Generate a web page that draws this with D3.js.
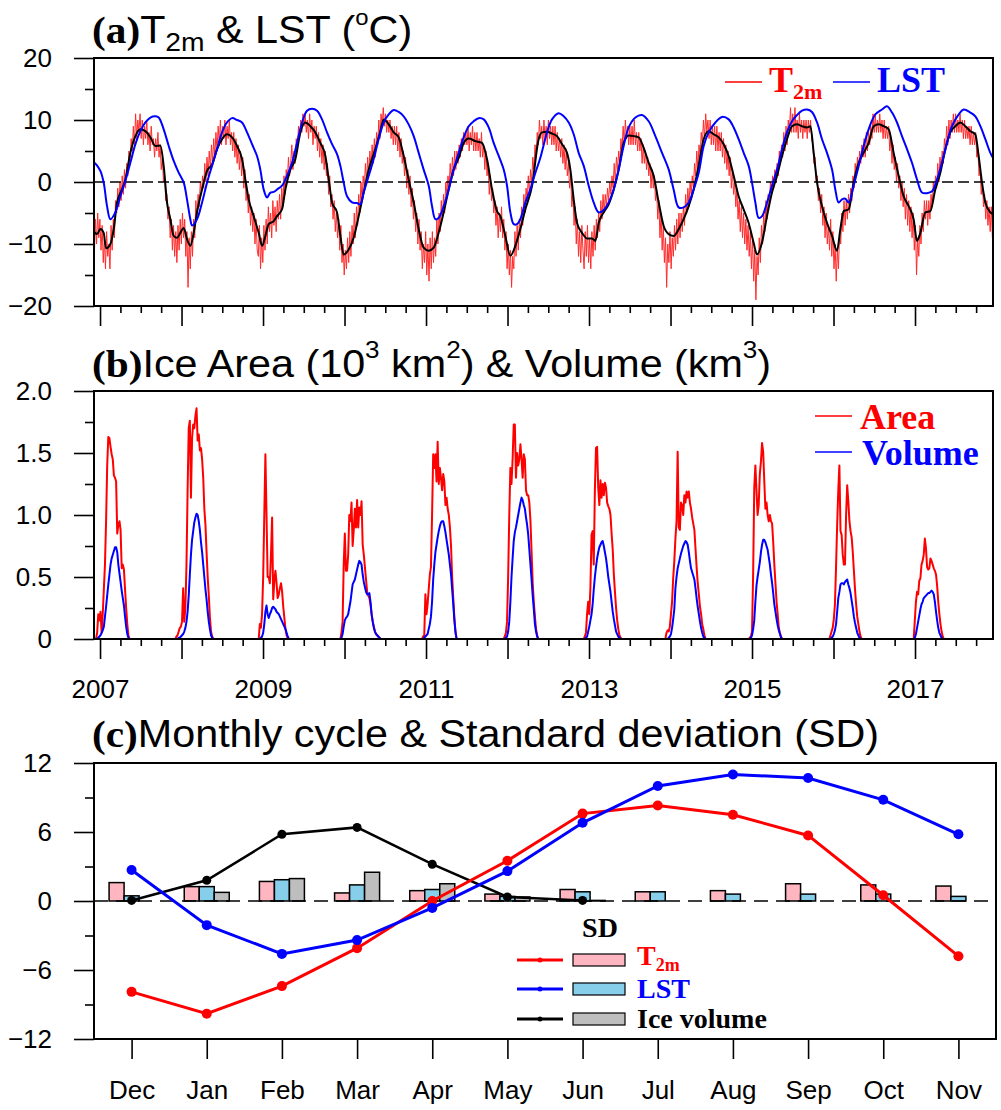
<!DOCTYPE html>
<html>
<head>
<meta charset="utf-8">
<script src="https://cdn.jsdelivr.net/npm/d3@7"></script>
<style>
  body { margin: 0; background: #fff; }
  text { white-space: pre; }
</style>
</head>
<body>
<svg id="chart" width="1001" height="1110"></svg>
<script>
// ---------------- data ----------------
// Times are in years since 2007-01-01.

// (a) daily T2m, sampled every 5 days from the start of the record
const t2mStart = -0.07;
const t2mStepDays = 5;
const t2mDaily = [
  -12,-6,-10,-5,-9,-6,-11,-7,-13,-9,-14,-8,-12,-10,-14,-7,-11,-6,-9,-3,-5,-1,-4,0,-3,1,-2,2,-1,3,1,5,3,7,5,9,6,11,7,10,8,11,7,10,6,9,7,10,6,8,5,9,6,7,4,7,5,8,4,6,2,4,0,1,-3,-2,-6,-4,-9,-6,-11,-7,-12,-8,
  -13,-7,-11,-6,-10,-5,-9,-6,-12,-8,-17,-9,-14,-8,-12,-6,-9,-3,-6,-2,-4,0,-2,1,-1,3,0,4,1,5,2,6,3,7,4,8,5,9,6,10,6,9,7,10,6,9,7,10,6,8,5,8,4,7,3,6,2,5,1,4,-1,2,-3,-1,-5,-2,-7,-4,-8,-5,-10,-6,-11,
  -12,-7,-14,-9,-13,-7,-11,-6,-10,-4,-8,-5,-9,-3,-7,-4,-8,-3,-6,-2,-6,-1,-4,1,-2,2,0,4,1,3,6,2,5,3,7,5,9,7,10,8,11,9,11,8,10,7,11,8,10,6,9,7,9,5,8,4,7,3,6,2,5,1,3,-2,1,-4,-2,-6,-3,-8,-5,-9,-6,
  -11,-7,-13,-10,-15,-11,-14,-9,-13,-8,-12,-7,-10,-5,-9,-4,-7,-2,-5,0,-3,1,-1,3,0,4,1,5,2,6,3,7,4,8,6,10,7,11,9,12,9,11,8,10,8,10,7,9,6,9,6,9,5,8,4,7,3,5,1,4,-1,2,-2,1,-4,-1,-6,-3,-8,-5,-10,-6,-11,
  -8,-14,-10,-13,-8,-15,-10,-16,-9,-14,-8,-13,-9,-12,-6,-10,-5,-8,-3,-6,-2,-5,0,-2,1,-1,3,0,4,1,5,2,5,3,6,4,7,5,8,6,8,6,9,5,8,6,9,5,8,5,8,5,7,4,8,4,6,2,5,1,3,-2,1,-3,-1,-5,-3,-7,-4,-9,-5,-8,-4,
  -9,-6,-11,-8,-14,-10,-15,-11,-17,-12,-14,-8,-12,-7,-11,-6,-9,-4,-7,-2,-5,-1,-3,1,-2,2,0,4,2,6,4,8,6,10,7,9,6,10,7,9,6,10,7,9,6,9,6,9,5,8,5,7,4,7,3,6,2,5,1,3,-1,1,-4,-2,-7,-4,-10,-6,-12,-8,-13,-7,-11,
  -14,-8,-12,-7,-13,-9,-14,-8,-12,-7,-11,-6,-9,-5,-8,-3,-6,-2,-5,-2,-4,-1,-3,0,-2,1,-1,3,0,4,2,5,3,7,5,9,6,10,7,9,6,9,6,9,6,10,6,8,5,8,5,7,3,6,3,5,2,4,1,3,-1,2,-1,1,-3,-1,-6,-3,-9,-5,-11,-7,-13,
  -9,-17,-10,-13,-8,-14,-9,-12,-7,-11,-6,-10,-5,-9,-5,-8,-4,-7,-2,-5,-1,-4,0,-2,1,-1,3,1,5,2,6,4,8,6,10,7,11,8,10,7,10,6,9,6,9,5,9,5,8,5,8,4,7,3,6,2,5,1,4,-1,2,-2,0,-4,-1,-6,-3,-8,-4,-9,-5,-10,-6,
  -11,-7,-12,-8,-14,-9,-16,-11,-19,-12,-15,-9,-13,-7,-10,-5,-8,-3,-6,-2,-4,0,-2,1,-1,2,0,3,1,5,3,6,4,8,5,9,6,10,8,12,8,11,8,12,8,10,7,11,8,10,7,10,8,10,7,10,8,10,7,6,3,4,0,1,-3,-1,-5,-2,-7,-4,-9,-5,-10,
  -7,-11,-6,-12,-8,-14,-10,-16,-11,-14,-8,-10,-5,-8,-3,-7,-3,-6,-2,-5,-1,-3,1,-1,3,1,4,2,5,3,6,4,7,4,8,5,8,6,9,7,11,8,11,8,10,8,11,8,10,7,10,7,9,7,9,5,7,3,6,2,4,0,3,-1,1,-3,0,-4,-1,-6,-2,-7,-3,
  -8,-4,-9,-5,-11,-7,-15,-9,-12,-7,-10,-5,-8,-3,-6,-3,-7,-3,-6,-2,-4,0,-2,1,-1,3,0,4,2,5,3,7,5,9,6,10,7,10,8,11,8,11,8,10,8,11,8,10,7,10,7,9,7,9,6,9,6,8,6,8,4,5,1,2,-2,0,-4,-2,-6,-3,-7,-4,-8,-4,-9,-5
];

// (a) smoothed T2m  [years since 2007, degC]
const t2mSmooth = [
  [-0.074,-8.0],[-0.037,-8.4],[0.004,-7.6],[0.045,-8.2],[0.074,-10.7],[0.127,-10.0],[0.168,-7.6],[0.209,-3.3],[0.27,-1.2],[0.311,0.4],
  [0.372,4.7],[0.434,7.4],[0.495,8.5],[0.556,8.2],[0.618,7.2],[0.679,5.8],[0.74,5.9],[0.781,2.6],[0.822,-3.3],[0.863,-6.0],
  [0.904,-8.7],[0.945,-9.0],[0.986,-8.2],[1.027,-7.4],[1.067,-9.2],[1.108,-10.3],[1.149,-8.2],[1.19,-4.9],[1.252,-1.2],[1.313,1.8],
  [1.374,2.8],[1.436,5.3],[1.497,6.9],[1.558,7.7],[1.62,7.2],[1.681,5.8],[1.742,3.7],[1.783,0.4],[1.824,-2.8],[1.885,-5.5],
  [1.947,-8.2],[1.988,-10.3],[2.029,-8.7],[2.07,-6.8],[2.131,-6.3],[2.172,-5.5],[2.233,-4.4],[2.274,-1.2],[2.335,2.0],[2.397,3.7],
  [2.458,8.0],[2.519,9.6],[2.581,9.0],[2.642,8.0],[2.703,6.3],[2.765,4.2],[2.806,0.4],[2.847,-3.3],[2.908,-4.9],[2.949,-8.7],
  [2.99,-11.7],[3.051,-10.9],[3.112,-9.0],[3.174,-5.5],[3.235,-1.7],[3.297,2.0],[3.378,5.3],[3.44,8.2],[3.481,10.1],[3.542,9.3],
  [3.603,8.0],[3.665,7.2],[3.726,4.2],[3.787,0.4],[3.849,-3.3],[3.91,-7.6],[3.971,-10.6],[4.033,-11.1],[4.094,-10.6],[4.155,-8.2],
  [4.217,-4.9],[4.278,-1.2],[4.339,2.0],[4.401,3.9],[4.462,6.3],[4.524,7.0],[4.605,6.6],[4.687,6.3],[4.748,3.7],[4.81,-1.2],
  [4.871,-4.7],[4.912,-5.5],[4.973,-8.7],[5.035,-11.9],[5.096,-10.3],[5.157,-7.6],[5.219,-4.4],[5.301,-0.6],[5.382,6.9],[5.423,8.0],
  [5.485,8.1],[5.546,7.8],[5.607,7.4],[5.669,6.1],[5.73,4.7],[5.771,2.0],[5.812,-2.8],[5.853,-6.6],[5.914,-8.2],[5.975,-9.1],
  [6.037,-9.1],[6.078,-9.5],[6.119,-6.6],[6.18,-4.9],[6.241,-3.6],[6.303,-1.2],[6.364,2.0],[6.425,6.3],[6.487,7.5],[6.548,7.4],
  [6.609,7.2],[6.671,5.5],[6.732,3.1],[6.793,1.0],[6.855,-3.3],[6.916,-7.1],[6.977,-8.4],[7.038,-8.7],[7.1,-7.6],[7.161,-6.0],
  [7.223,-3.9],[7.284,-1.2],[7.345,2.6],[7.407,6.9],[7.468,8.2],[7.529,7.7],[7.591,7.2],[7.652,6.1],[7.713,4.2],[7.775,1.0],
  [7.836,-2.3],[7.897,-4.4],[7.959,-6.6],[8.02,-9.8],[8.061,-11.7],[8.122,-9.8],[8.184,-5.5],[8.245,-1.7],[8.307,1.0],[8.368,4.2],
  [8.429,6.9],[8.491,9.0],[8.552,9.3],[8.613,9.0],[8.675,8.8],[8.716,9.0],[8.757,4.7],[8.798,-0.1],[8.859,-3.9],[8.92,-6.6],
  [8.982,-8.7],[9.043,-11.1],[9.084,-7.6],[9.125,-4.7],[9.186,-4.4],[9.247,-0.1],[9.309,3.1],[9.37,4.7],[9.431,6.3],[9.493,9.0],
  [9.554,9.3],[9.615,9.0],[9.677,8.5],[9.738,4.7],[9.799,1.0],[9.861,-2.3],[9.922,-3.9],[9.983,-6.0],[10.024,-9.5],[10.065,-8.2],
  [10.127,-4.9],[10.188,-4.7],[10.249,-1.2],[10.311,1.5],[10.372,5.3],[10.433,8.0],[10.495,9.0],[10.556,9.6],[10.617,9.0],[10.679,8.2],
  [10.74,7.7],[10.781,4.2],[10.822,-0.1],[10.863,-3.3],[10.924,-4.9],[10.965,-5.2]
];

// (a) land surface temperature  [years since 2007, degC]
const lst = [
  [-0.074,3.2],[-0.049,2.85],[0.004,1.8],[0.045,-0.1],[0.086,-3.9],[0.127,-6.0],[0.188,-4.9],[0.249,-2.3],[0.311,0.2],[0.372,3.1],
  [0.434,6.1],[0.495,8.2],[0.556,9.6],[0.618,10.4],[0.679,10.6],[0.72,10.4],[0.781,8.5],[0.843,5.8],[0.904,3.4],[0.965,1.5],
  [1.027,-0.1],[1.067,-2.8],[1.108,-6.0],[1.129,-7.0],[1.19,-6.0],[1.252,-3.3],[1.313,-0.1],[1.374,2.6],[1.436,5.3],[1.497,8.0],
  [1.558,9.6],[1.62,10.3],[1.681,10.0],[1.742,9.6],[1.804,8.0],[1.865,6.1],[1.926,4.2],[1.967,2.0],[2.008,-1.2],[2.049,-2.5],
  [2.09,-1.7],[2.131,-1.6],[2.172,-1.2],[2.233,-0.6],[2.294,1.0],[2.356,3.1],[2.417,6.3],[2.479,9.6],[2.54,11.5],[2.601,11.8],
  [2.663,11.5],[2.724,10.1],[2.785,8.0],[2.847,6.1],[2.908,4.5],[2.949,2.6],[2.99,-0.1],[3.031,-2.3],[3.092,-3.3],[3.153,-3.4],
  [3.194,-3.6],[3.235,-1.7],[3.297,1.0],[3.358,3.7],[3.419,6.9],[3.481,9.6],[3.542,10.9],[3.603,11.6],[3.665,11.3],[3.726,10.6],
  [3.787,9.3],[3.849,7.4],[3.91,4.7],[3.971,2.0],[4.033,-0.6],[4.074,-3.9],[4.115,-6.0],[4.155,-5.8],[4.217,-3.9],[4.278,-1.2],
  [4.339,2.0],[4.401,4.7],[4.462,7.2],[4.524,9.0],[4.585,9.8],[4.646,10.3],[4.708,10.1],[4.769,8.8],[4.83,6.3],[4.892,4.2],
  [4.953,2.0],[4.994,-0.6],[5.035,-4.9],[5.076,-6.8],[5.117,-6.8],[5.157,-6.0],[5.219,-3.3],[5.28,-1.2],[5.342,1.5],[5.403,3.9],
  [5.485,8.0],[5.546,10.1],[5.628,11.1],[5.689,10.6],[5.751,9.6],[5.812,7.7],[5.873,4.7],[5.935,2.6],[5.996,-0.6],[6.057,-3.3],
  [6.119,-4.9],[6.18,-4.5],[6.241,-3.3],[6.303,-1.2],[6.364,2.0],[6.425,5.8],[6.487,8.8],[6.569,10.4],[6.65,10.8],[6.732,9.8],
  [6.814,7.4],[6.896,4.7],[6.978,2.0],[7.038,-1.2],[7.1,-4.1],[7.161,-4.1],[7.223,-3.3],[7.284,-1.2],[7.346,1.5],[7.407,5.8],
  [7.468,8.0],[7.55,9.6],[7.632,10.5],[7.714,10.1],[7.775,8.8],[7.836,6.9],[7.898,4.7],[7.959,2.6],[8.0,-0.1],[8.041,-3.3],
  [8.082,-5.8],[8.123,-5.5],[8.184,-3.3],[8.245,-0.6],[8.307,2.0],[8.368,5.3],[8.429,8.0],[8.491,9.8],[8.552,10.8],[8.614,11.5],
  [8.675,11.7],[8.736,11.3],[8.798,9.6],[8.859,6.9],[8.92,4.7],[8.982,2.0],[9.022,-1.2],[9.063,-3.3],[9.104,-2.8],[9.145,-2.7],
  [9.186,-3.3],[9.247,-0.6],[9.309,2.6],[9.37,5.8],[9.431,8.5],[9.513,10.9],[9.595,11.7],[9.656,12.2],[9.718,11.2],[9.779,9.6],
  [9.84,7.4],[9.902,5.3],[9.963,3.1],[10.025,0.4],[10.086,-1.7],[10.147,-1.8],[10.209,-1.5],[10.27,0.4],[10.331,3.1],[10.393,6.3],
  [10.454,9.0],[10.536,10.9],[10.597,11.7],[10.679,11.2],[10.74,10.6],[10.802,9.0],[10.863,6.9],[10.924,4.7],[10.965,3.7]
];

// (b) lake ice, one block per winter, sampled every 5 days from the block start
const iceStepDays = 5;
const iceSeasonStart = [-0.049, 0.924, 1.947, 2.949, 3.951, 4.953, 5.935, 6.937, 7.959, 8.949, 9.984];
const iceArea = [
  [0,0.05,0.2,0.15,0.22,0.05,0.2,0.4,0.6,0.95,1.4,1.63,1.62,1.55,1.49,1.45,1.32,1.3,1.27,0.85,0.92,0.95,0.88,0.57,0.6,0.56,0.4,0.25,0.12,0.03,0],
  [0,0.02,0.03,0.06,0.09,0.1,0.14,0.41,0.14,0.25,0.6,1.2,1.7,1.76,1.14,1.62,1.73,1.7,1.8,1.86,1.6,1.65,1.52,1.54,1.45,1.3,1.05,0.92,0.7,0.5,0.35,0.17,0.06,0.02,0],
  [0,0.12,0.09,0.2,0.5,1.0,1.49,1.0,0.5,0.5,0.45,0.68,0.98,0.32,0.47,0.55,0.45,0.33,0.36,0.41,0.45,0.38,0.26,0.17,0.08,0.03,0.01,0],
  [0,0.05,0.14,0.6,0.85,0.55,0.55,0.68,1.0,0.95,1.1,0.75,0.88,1.05,0.9,1.12,0.9,1.06,1.0,1.11,0.76,0.68,0.58,0.48,0.38,0.35,0.33,0.28,0.2,0.14,0.1,0.06,0.04,0.03,0.02,0.01,0],
  [0,0.02,0.03,0.36,0.2,0.28,0.4,0.52,0.58,1.0,1.49,1.38,1.49,1.27,1.59,1.25,1.38,1.3,1.2,1.33,1.27,1.08,1.14,1.05,1.0,0.9,0.75,0.5,0.33,0.17,0.05,0],
  [0,0.02,0.05,0.14,0.5,1.0,1.38,1.25,1.45,1.73,1.73,1.3,1.5,1.4,1.45,1.57,1.45,1.3,1.49,1.45,1.2,1.16,1.16,1.1,0.95,0.7,0.45,0.3,0.18,0.08,0.03,0],
  [0,0.02,0.05,0.2,0.3,0.2,0.41,0.84,0.87,0.6,1.2,1.54,1.55,1.22,1.08,1.28,1.14,1.25,1.16,1.26,1.22,1.1,1.07,1.05,1.0,0.85,0.72,0.52,0.38,0.25,0.15,0.08,0.03,0.01,0],
  [0,0.05,0.07,0.06,0.1,0.2,0.3,0.49,0.63,0.81,0.95,1.51,0.9,0.88,1.1,1.08,1.0,1.16,1.1,1.19,1.14,1.19,1.1,1.05,0.98,0.93,0.88,0.73,0.58,0.45,0.36,0.26,0.2,0.12,0.08,0.03,0],
  [0,0.01,0.02,0.06,0.52,1.22,1.4,1.2,1.0,1.08,1.33,1.43,1.58,1.51,1.27,1.05,1.1,1.0,0.95,1.0,0.95,0.93,0.78,0.6,0.45,0.3,0.2,0.09,0.05,0.02,0],
  [0,0.03,0.06,0.09,0.16,0.28,0.58,0.92,1.2,1.4,0.87,0.84,0.68,0.6,0.6,1.0,1.24,1.11,0.95,0.87,0.82,0.7,0.55,0.4,0.28,0.18,0.12,0.06,0.02,0],
  [0,0.15,0.3,0.38,0.36,0.47,0.49,0.6,0.63,0.68,0.81,0.73,0.58,0.56,0.57,0.65,0.63,0.6,0.57,0.55,0.52,0.43,0.3,0.2,0.12,0.06,0.02,0]
];
const iceVolume = [
  [0,0,0.01,0.02,0.03,0.05,0.07,0.1,0.18,0.26,0.35,0.44,0.52,0.6,0.65,0.68,0.71,0.74,0.74,0.7,0.6,0.53,0.46,0.39,0.33,0.27,0.18,0.1,0.04,0.01,0],
  [0,0,0,0.01,0.01,0.02,0.03,0.04,0.06,0.09,0.14,0.22,0.35,0.52,0.68,0.8,0.87,0.94,0.98,1.01,1.0,0.95,0.88,0.78,0.7,0.6,0.5,0.4,0.32,0.22,0.14,0.08,0.03,0.01,0],
  [0,0,0.01,0.02,0.05,0.12,0.22,0.27,0.2,0.17,0.2,0.22,0.25,0.26,0.25,0.24,0.22,0.21,0.2,0.18,0.16,0.14,0.12,0.1,0.08,0.05,0.02,0],
  [0,0.01,0.04,0.1,0.15,0.17,0.18,0.2,0.25,0.3,0.37,0.44,0.46,0.48,0.52,0.56,0.6,0.63,0.62,0.6,0.52,0.46,0.42,0.38,0.36,0.36,0.37,0.3,0.2,0.14,0.09,0.06,0.04,0.03,0.02,0.01,0],
  [0,0,0.01,0.02,0.03,0.04,0.08,0.12,0.18,0.3,0.48,0.6,0.7,0.76,0.82,0.87,0.91,0.94,0.95,0.95,0.91,0.86,0.8,0.74,0.68,0.6,0.52,0.4,0.28,0.15,0.06,0],
  [0,0,0.01,0.02,0.06,0.14,0.3,0.5,0.65,0.79,0.86,0.9,0.95,1.0,1.05,1.1,1.14,1.12,1.08,1.05,0.98,0.92,0.84,0.72,0.6,0.48,0.35,0.24,0.12,0.06,0.02,0],
  [0,0,0.01,0.02,0.06,0.1,0.15,0.2,0.28,0.4,0.5,0.58,0.65,0.7,0.74,0.76,0.78,0.79,0.75,0.7,0.65,0.58,0.5,0.44,0.38,0.3,0.22,0.16,0.11,0.06,0.04,0.02,0.01,0,0],
  [0,0,0,0.01,0.02,0.04,0.09,0.16,0.24,0.41,0.5,0.57,0.61,0.65,0.69,0.72,0.75,0.77,0.79,0.78,0.76,0.7,0.63,0.57,0.54,0.51,0.48,0.41,0.33,0.26,0.2,0.14,0.09,0.05,0.02,0.01,0],
  [0,0,0.01,0.03,0.08,0.15,0.3,0.43,0.5,0.56,0.62,0.7,0.76,0.8,0.8,0.78,0.75,0.72,0.66,0.6,0.52,0.45,0.37,0.28,0.22,0.16,0.11,0.07,0.04,0.01,0],
  [0,0,0.01,0.02,0.04,0.07,0.12,0.22,0.33,0.38,0.44,0.45,0.45,0.44,0.46,0.47,0.48,0.44,0.41,0.37,0.31,0.25,0.18,0.13,0.09,0.05,0.03,0.01,0,0],
  [0,0.01,0.04,0.09,0.14,0.19,0.24,0.28,0.3,0.33,0.34,0.35,0.36,0.37,0.37,0.38,0.39,0.38,0.36,0.3,0.22,0.15,0.09,0.05,0.03,0.01,0,0]
];

// (c) monthly cycle and standard deviation
const months   = ["Dec","Jan","Feb","Mar","Apr","May","Jun","Jul","Aug","Sep","Oct","Nov"];
const t2mCycle = [-7.9,-9.8,-7.4,-4.1,0.0,3.5,7.6,8.3,7.5,5.7,0.5,-4.8];
const lstCycle = [2.7,-2.1,-4.6,-3.4,-0.6,2.6,6.8,10.0,11.0,10.7,8.8,5.8];
const iceMonths = ["Dec","Jan","Feb","Mar","Apr","May","Jun"];
const iceCycle = [0.05,1.8,5.8,6.4,3.2,0.35,0.05];
const sdT2m = [1.6,1.25,1.7,0.7,0.9,0.6,1.0,0.8,0.9,1.5,1.4,1.3];
const sdLst = [0.45,1.25,1.85,1.4,1.0,0.4,0.8,0.8,0.6,0.6,0.6,0.4];
const sdIce = [0.0,0.75,1.95,2.5,1.5,0.35,0.05,0,0,0,0,0];

// time-axis ticks
const yearTicks = d3.range(2007, 2018);
const yearLabels = [2007, 2009, 2011, 2013, 2015, 2017];

// ---------------- drawing ----------------
const SANS = "'Liberation Sans', Arial, Helvetica, sans-serif";
const SERIF = "'Liberation Serif', 'Times New Roman', serif";
const svg = d3.select("#chart");
const L = 94, R = 993, RC = 996;

const x  = d3.scaleLinear().domain([2006.926, 2017.957]).range([L, R]);
const yA = d3.scaleLinear().domain([-20, 20]).range([306, 58]);
const yB = d3.scaleLinear().domain([0, 2]).range([639, 391]);
const xM = d3.scalePoint().domain(months).range([L, RC]).padding(0.5);
const yC = d3.scaleLinear().domain([-12, 12]).range([1039, 763]);
const sub = d3.scaleBand().domain(["t2m","lst","ice"]).range([-22.5, 22.5]);

function richText(g, xx, yy, size, parts, fill, anchor) {
  const t = g.append("text").attr("x", xx).attr("y", yy)
    .attr("font-size", size).attr("font-family", SANS)
    .attr("fill", fill || "#000").attr("text-anchor", anchor || "start");
  let cur = 0;
  parts.forEach(p => {
    const shift = p.shift || 0;
    const s = t.append("tspan").text(p.t).attr("dy", shift - cur);
    cur = shift;
    if (p.size) s.attr("font-size", p.size);
    if (p.serif) s.attr("font-family", SERIF).attr("font-weight", "bold");
  });
  return t;
}

// panel titles are set slightly wide
function title(yy, parts) {
  const g = svg.append("g").attr("transform", "translate(92,0) scale(1.087,1) translate(-92,0)");
  richText(g, 92, yy, 38, parts);
}

function styleAxis(g, labelSize) {
  g.select(".domain").remove();
  g.selectAll(".tick line").attr("stroke", "#000").attr("stroke-width", 1.6);
  g.selectAll(".tick text").attr("font-family", SANS).attr("font-size", labelSize || 26).attr("fill", "#000");
}

function leftAxis(y, major, minor, fmt) {
  svg.append("g").attr("transform", `translate(${L},0)`)
    .call(d3.axisLeft(y).tickValues(minor).tickSize(9).tickFormat(""))
    .call(g => styleAxis(g));
  svg.append("g").attr("transform", `translate(${L},0)`)
    .call(d3.axisLeft(y).tickValues(major).tickSize(20).tickPadding(22).tickFormat(fmt))
    .call(g => styleAxis(g));
}

function timeAxis(y0, withLabels) {
  const minor = d3.range(2006.75, 2018, 0.25).filter(v => v >= 2006.93 && v <= 2017.95 && !Number.isInteger(v));
  svg.append("g").attr("transform", `translate(0,${y0})`)
    .call(d3.axisBottom(x).tickValues(minor).tickSize(7).tickFormat(""))
    .call(g => styleAxis(g));
  svg.append("g").attr("transform", `translate(0,${y0})`)
    .call(d3.axisBottom(x).tickValues(yearTicks).tickSize(20).tickPadding(21)
      .tickFormat(d => withLabels && yearLabels.includes(d) ? String(d) : ""))
    .call(g => styleAxis(g));
}

function frame(x0, y0, x1, y1) {
  svg.append("rect").attr("x", x0).attr("y", y0).attr("width", x1 - x0).attr("height", y1 - y0)
    .attr("fill", "none").attr("stroke", "#000").attr("stroke-width", 2);
}

function clip(id, x0, y0, x1, y1) {
  svg.append("clipPath").attr("id", id).append("rect")
    .attr("x", x0).attr("y", y0).attr("width", x1 - x0).attr("height", y1 - y0);
}

// ---- panel (a) ----
clip("clipA", L, 58, R, 306);
const gA = svg.append("g").attr("clip-path", "url(#clipA)");
const stepYr = t2mStepDays / 365.25;
gA.append("path")
  .datum(t2mDaily)
  .attr("fill", "none").attr("stroke", "#ff2b2b").attr("stroke-width", 1)
  .attr("d", d3.line().x((d, i) => x(2007 + t2mStart + i * stepYr)).y(d => yA(d)));
gA.append("line").attr("x1", L).attr("x2", R).attr("y1", yA(0)).attr("y2", yA(0))
  .attr("stroke", "#000").attr("stroke-width", 1.5).attr("stroke-dasharray", "11,5");
gA.append("path")
  .datum(t2mSmooth)
  .attr("fill", "none").attr("stroke", "#000").attr("stroke-width", 2)
  .attr("d", d3.line().x(d => x(2007 + d[0])).y(d => yA(d[1])).curve(d3.curveMonotoneX));
gA.append("path")
  .datum(lst)
  .attr("fill", "none").attr("stroke", "#0000ff").attr("stroke-width", 2)
  .attr("d", d3.line().x(d => x(2007 + d[0])).y(d => yA(d[1])).curve(d3.curveCatmullRom));

leftAxis(yA, [-20, -10, 0, 10, 20], [-15, -5, 5, 15], d3.format("d"));
timeAxis(306, false);
frame(L, 58, R, 306);

title(43, [
  {t: "(a)", serif: true}, {t: "T"}, {t: "2m", size: 26, shift: 8},
  {t: " & LST ("}, {t: "o", size: 22, shift: -18}, {t: "C)"}
]);
// legend (a)
svg.append("line").attr("x1", 725).attr("x2", 762).attr("y1", 82).attr("y2", 82).attr("stroke", "#ff0000").attr("stroke-width", 1.5);
richText(svg, 769, 92, 36, [{t: "T", serif: true}, {t: "2m", serif: true, size: 22, shift: 7}], "#ff0000");
svg.append("line").attr("x1", 833).attr("x2", 870).attr("y1", 82).attr("y2", 82).attr("stroke", "#0000ff").attr("stroke-width", 1.5);
richText(svg, 877, 92, 36, [{t: "LST", serif: true}], "#0000ff");

// ---- panel (b) ----
clip("clipB", L, 391, R, 639);
const gB = svg.append("g").attr("clip-path", "url(#clipB)");
const iceYr = iceStepDays / 365.25;
const iceLine = s => d3.line().x((d, i) => x(2007 + iceSeasonStart[s] + i * iceYr)).y(d => yB(d));
iceArea.forEach((vals, s) => {
  gB.append("path").datum(vals).attr("fill", "none").attr("stroke", "#ff0000")
    .attr("stroke-width", 2).attr("stroke-linejoin", "round").attr("d", iceLine(s));
});
iceVolume.forEach((vals, s) => {
  gB.append("path").datum(vals).attr("fill", "none").attr("stroke", "#0000ff")
    .attr("stroke-width", 2).attr("stroke-linejoin", "round").attr("d", iceLine(s));
});

leftAxis(yB, [0, 0.5, 1, 1.5, 2], [0.25, 0.75, 1.25, 1.75], d => d === 0 ? "0" : d.toFixed(1));
timeAxis(639, true);
frame(L, 391, R, 639);

title(377, [
  {t: "(b)", serif: true}, {t: "Ice Area (10"}, {t: "3", size: 24, shift: -19},
  {t: " km"}, {t: "2", size: 24, shift: -19}, {t: ") & Volume (km"},
  {t: "3", size: 24, shift: -19}, {t: ")"}
]);
// legend (b)
svg.append("line").attr("x1", 815).attr("x2", 852).attr("y1", 416).attr("y2", 416).attr("stroke", "#ff0000").attr("stroke-width", 1.5);
richText(svg, 860, 429, 36, [{t: "Area", serif: true}], "#ff0000");
svg.append("line").attr("x1", 815).attr("x2", 852).attr("y1", 452).attr("y2", 452).attr("stroke", "#0000ff").attr("stroke-width", 1.5);
richText(svg, 862, 465, 36, [{t: "Volume", serif: true}], "#0000ff");

// ---- panel (c) ----
const gC = svg.append("g");
const barSets = [
  {key: "t2m", vals: sdT2m, fill: "#ffb6c1"},
  {key: "lst", vals: sdLst, fill: "#87ceeb"},
  {key: "ice", vals: sdIce, fill: "#bebebe"}
];
barSets.forEach(bs => {
  gC.selectAll(null).data(bs.vals.map((v, i) => ({m: months[i], v})).filter(d => d.v > 0))
    .enter().append("rect")
    .attr("x", d => xM(d.m) + sub(bs.key))
    .attr("width", sub.bandwidth())
    .attr("y", d => yC(d.v))
    .attr("height", d => yC(0) - yC(d.v))
    .attr("fill", bs.fill).attr("stroke", "#000").attr("stroke-width", 1.5);
});
gC.append("line").attr("x1", L).attr("x2", RC).attr("y1", yC(0)).attr("y2", yC(0))
  .attr("stroke", "#000").attr("stroke-width", 1.5).attr("stroke-dasharray", "14,8");

function cycleLine(ms, vals, color, w, r) {
  const pts = ms.map((m, i) => [xM(m), yC(vals[i])]);
  gC.append("path").datum(pts).attr("fill", "none").attr("stroke", color)
    .attr("stroke-width", w).attr("d", d3.line());
  gC.selectAll(null).data(pts).enter().append("circle")
    .attr("cx", d => d[0]).attr("cy", d => d[1]).attr("r", r).attr("fill", color);
}
cycleLine(iceMonths, iceCycle, "#000", 2.5, 4.5);
cycleLine(months, t2mCycle, "#ff0000", 3, 5);
cycleLine(months, lstCycle, "#0000ff", 3, 5);

leftAxis(yC, [-12, -6, 0, 6, 12], [-9, -3, 3, 9], d3.format("d"));
svg.append("g").attr("transform", `translate(0,1039)`)
  .call(d3.axisBottom(xM).tickSize(20).tickPadding(22))
  .call(g => styleAxis(g));
frame(L, 763, RC, 1039);

title(747, [{t: "(c)", serif: true}, {t: "Monthly cycle & Standard deviation (SD)"}]);

// legend (c)
richText(svg, 600, 937, 28, [{t: "SD", serif: true}], "#000", "middle");
const legRows = [
  {y: 960, color: "#ff0000", fill: "#ffb6c1", parts: [{t: "T", serif: true}, {t: "2m", serif: true, size: 18, shift: 6}], base: 965},
  {y: 989, color: "#0000ff", fill: "#87ceeb", parts: [{t: "LST", serif: true}], base: 998},
  {y: 1019, color: "#000", fill: "#bebebe", parts: [{t: "Ice volume", serif: true}], base: 1028}
];
legRows.forEach(r => {
  svg.append("line").attr("x1", 517).attr("x2", 563).attr("y1", r.y).attr("y2", r.y)
    .attr("stroke", r.color).attr("stroke-width", 3);
  svg.append("circle").attr("cx", 540).attr("cy", r.y).attr("r", 2.5).attr("fill", r.color);
  svg.append("rect").attr("x", 573).attr("y", r.y - 6).attr("width", 52).attr("height", 12)
    .attr("fill", r.fill).attr("stroke", "#000").attr("stroke-width", 1.2);
  richText(svg, 637, r.base, 28, r.parts, r.color);
});
</script>
</body>
</html>
